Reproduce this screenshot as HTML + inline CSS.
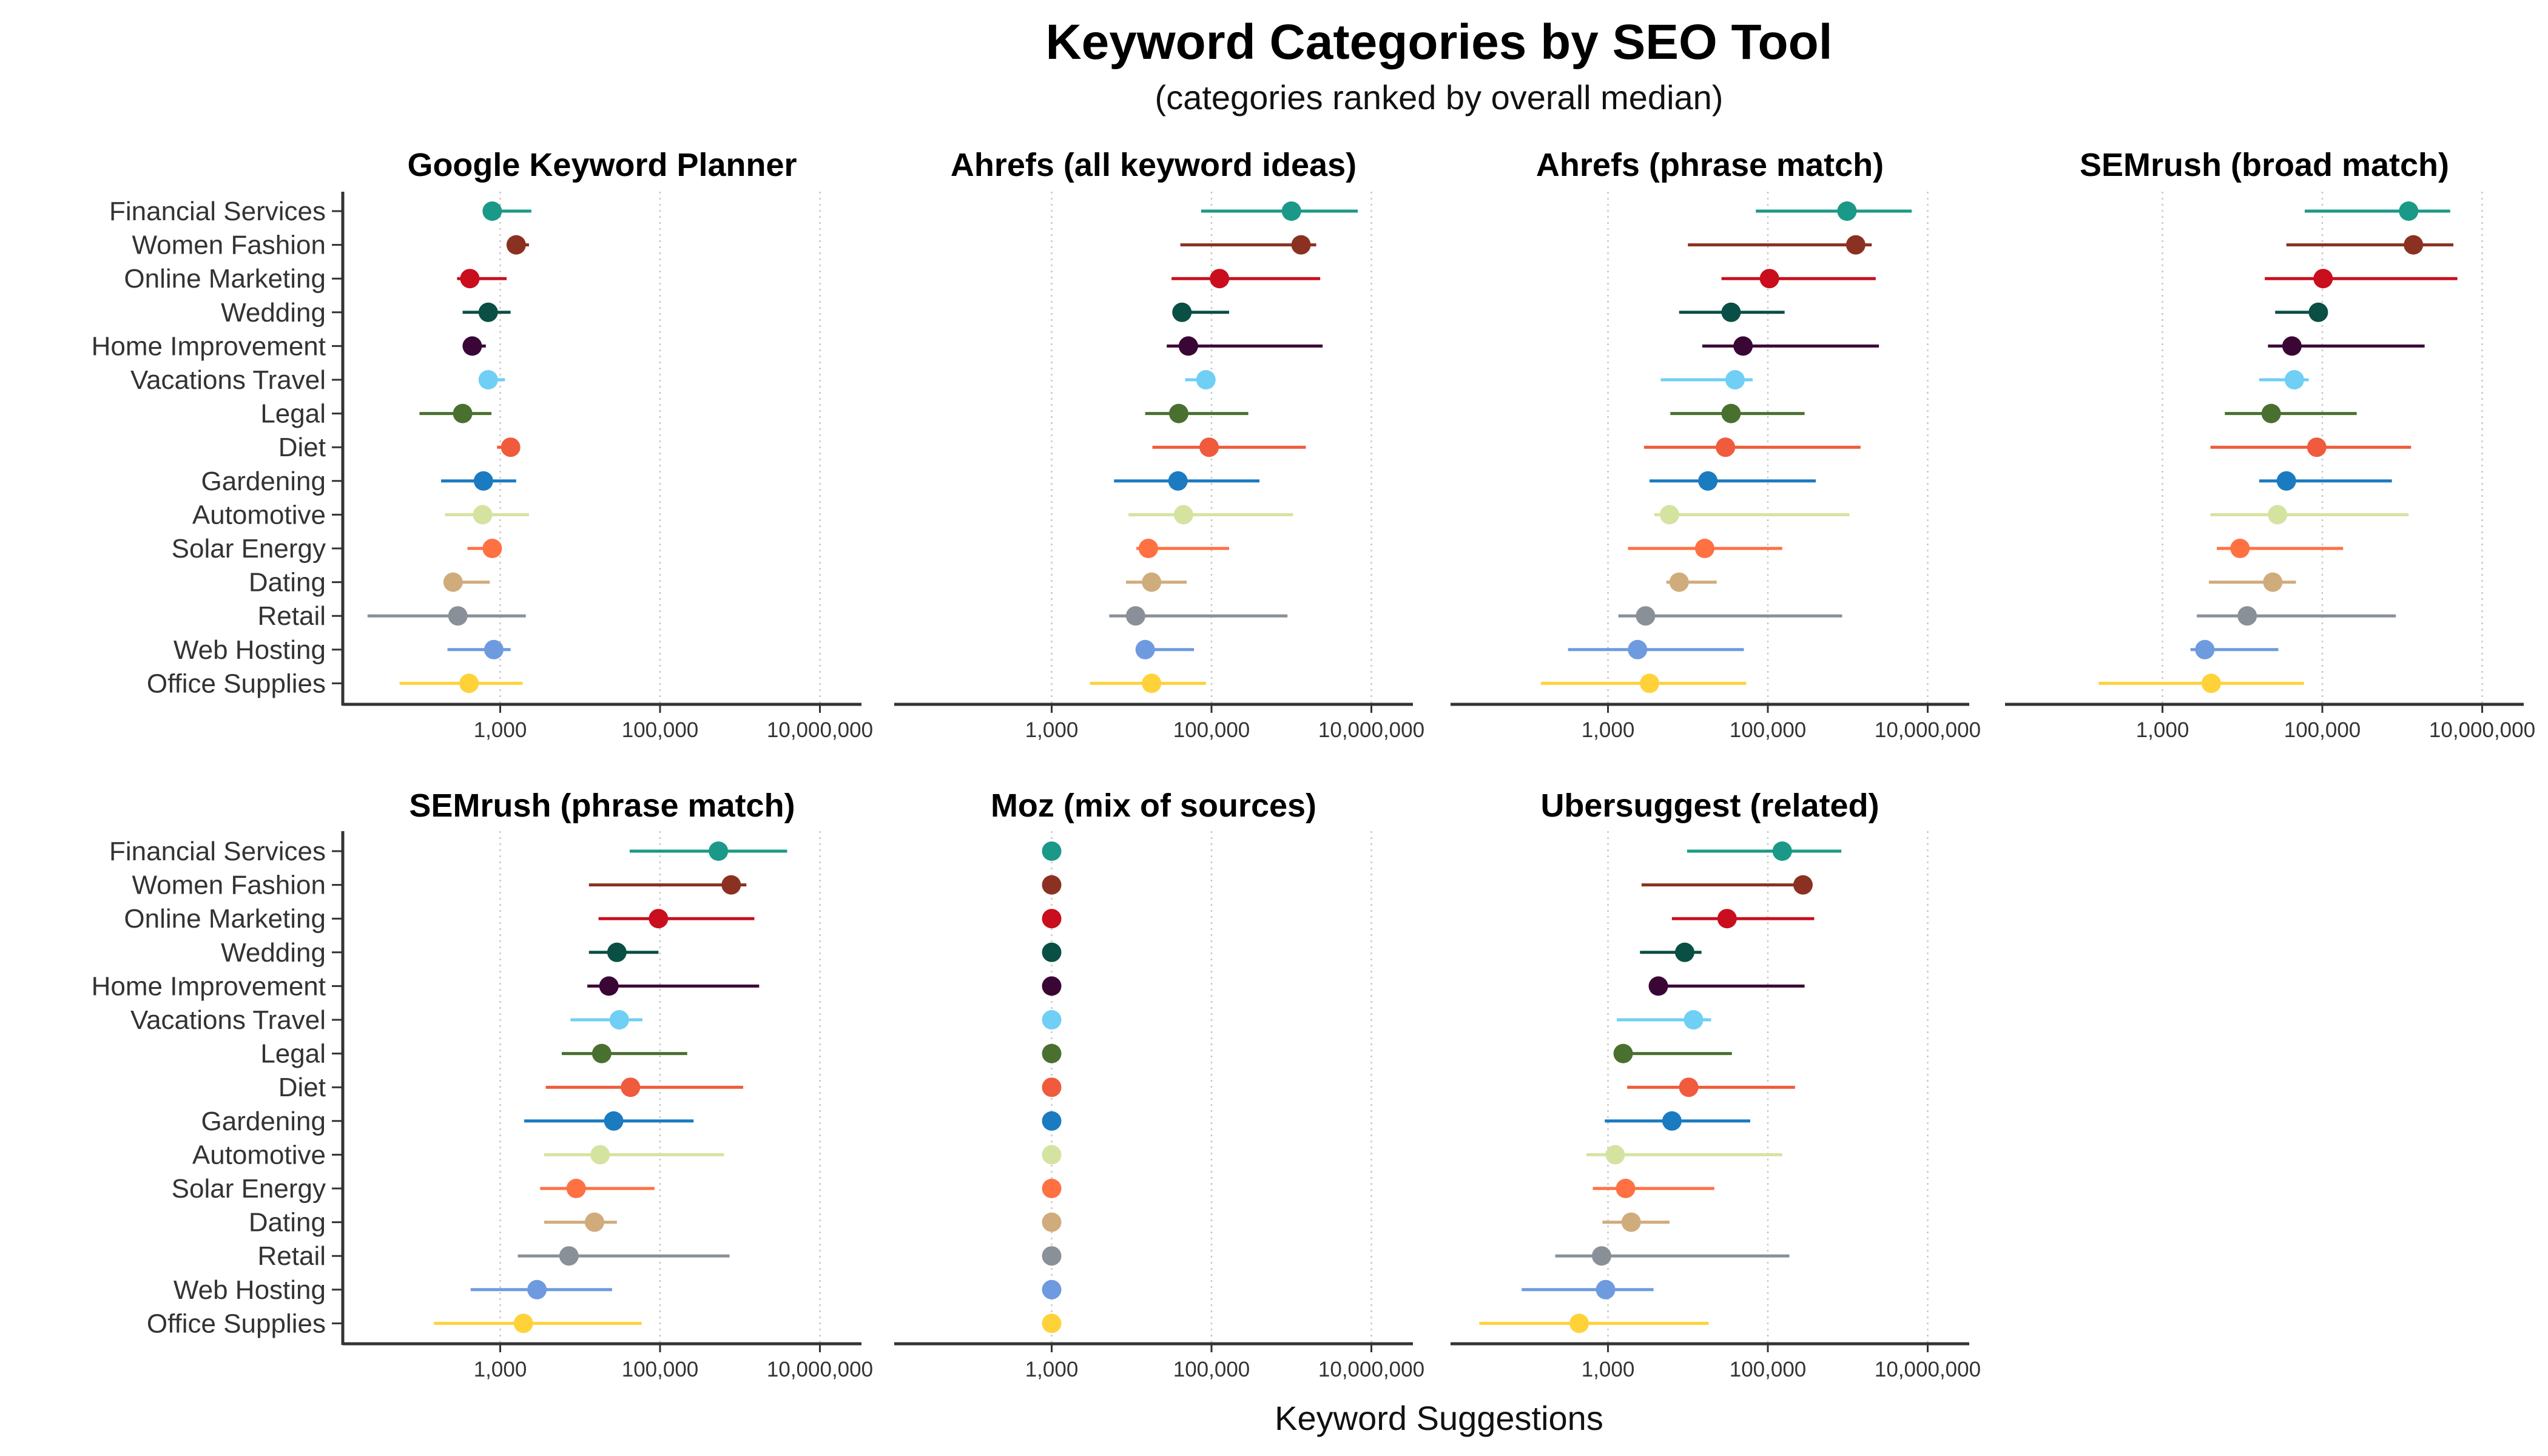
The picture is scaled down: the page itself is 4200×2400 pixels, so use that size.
<!DOCTYPE html>
<html><head><meta charset="utf-8"><style>
html,body{margin:0;padding:0;background:#fff}
svg{display:block}
text{font-family:"Liberation Sans",sans-serif}
</style></head><body>
<svg id="chart" width="4200" height="2400" viewBox="0 0 4200 2400" xmlns="http://www.w3.org/2000/svg">
<rect width="4200" height="2400" fill="#fff"/>
<text x="2372" y="97" text-anchor="middle" font-size="82" font-weight="bold" fill="#000">Keyword Categories by SEO Tool</text>
<text x="2372" y="180" text-anchor="middle" font-size="56" fill="#111">(categories ranked by overall median)</text>
<text x="2372" y="2357" text-anchor="middle" font-size="56" fill="#111">Keyword Suggestions</text>
<g id="panels"></g>
</svg>
<script>
const categories = ["Financial Services","Women Fashion","Online Marketing","Wedding","Home Improvement","Vacations Travel","Legal","Diet","Gardening","Automotive","Solar Energy","Dating","Retail","Web Hosting","Office Supplies"];
const colors = ["#1a9988","#8b3121","#c90e1d","#0a4f43","#3a0636","#6fcff5","#4a7030","#ef5b3c","#1a7bc0","#d5e3a0","#ff7043","#d0ac7c","#8a9097","#6e9ae0","#ffd23a"];
const toolNames = ["Google Keyword Planner","Ahrefs (all keyword ideas)","Ahrefs (phrase match)","SEMrush (broad match)","SEMrush (phrase match)","Moz (mix of sources)","Ubersuggest (related)"];
const tickValues = [3,5,7];
const tickLabels = ["1,000","100,000","10,000,000"];
// values are log10(keyword suggestions)
const gkpLow  = [2.85,3.11,2.46,2.53,2.55,2.76,1.99,2.96,2.26,2.31,2.59,2.29,1.34,2.34,1.74];
const gkpMed  = [2.90,3.20,2.62,2.85,2.65,2.85,2.53,3.13,2.79,2.78,2.90,2.41,2.47,2.92,2.61];
const gkpHigh = [3.39,3.36,3.08,3.13,2.82,3.06,2.89,3.22,3.20,3.36,3.01,2.87,3.32,3.13,3.28];
const ahAllLow  = [4.87,4.61,4.50,4.60,4.44,4.67,4.17,4.26,3.78,3.96,4.06,3.93,3.72,4.09,3.48];
const ahAllMed  = [6.00,6.12,5.10,4.63,4.71,4.93,4.59,4.97,4.58,4.65,4.21,4.25,4.05,4.17,4.25];
const ahAllHigh = [6.83,6.31,6.36,5.22,6.39,5.03,5.46,6.18,5.60,6.02,5.22,4.69,5.95,4.78,4.93];
const ahPhLow  = [4.85,4.00,4.42,3.89,4.18,3.66,3.78,3.45,3.52,3.58,3.25,3.73,3.13,2.50,2.16];
const ahPhMed  = [5.99,6.10,5.02,4.54,4.69,4.59,4.54,4.47,4.25,3.77,4.21,3.89,3.47,3.37,3.52];
const ahPhHigh = [6.80,6.30,6.35,5.21,6.39,4.81,5.46,6.16,5.60,6.02,5.18,4.36,5.93,4.70,4.73];
const smBrLow  = [4.78,4.55,4.28,4.41,4.32,4.21,3.78,3.60,4.21,3.60,3.68,3.58,3.43,3.35,2.20];
const smBrMed  = [6.08,6.14,5.01,4.95,4.62,4.65,4.36,4.93,4.55,4.44,3.97,4.38,4.06,3.53,3.61];
const smBrHigh = [6.60,6.64,6.69,5.00,6.28,4.83,5.43,6.11,5.87,6.08,5.26,4.67,5.92,4.45,4.77];
const smPhLow  = [4.62,4.11,4.23,4.11,4.09,3.88,3.77,3.57,3.30,3.55,3.50,3.55,3.22,2.63,2.17];
const smPhMed  = [5.73,5.89,4.98,4.46,4.36,4.49,4.27,4.63,4.42,4.25,3.95,4.18,3.86,3.46,3.29];
const smPhHigh = [6.59,6.08,6.18,4.98,6.24,4.78,5.34,6.04,5.42,5.80,4.93,4.46,5.87,4.40,4.77];
const mozLow  = [3,3,3,3,3,3,3,3,3,3,3,3,3,3,3];
const mozMed  = [3,3,3,3,3,3,3,3,3,3,3,3,3,3,3];
const mozHigh = [3,3,3,3,3,3,3,3,3,3,3,3,3,3,3];
const ubLow  = [3.99,3.42,3.80,3.40,3.54,3.11,3.08,3.24,2.96,2.73,2.81,2.93,2.34,1.92,1.39];
const ubMed  = [5.18,5.44,4.49,3.96,3.63,4.07,3.19,4.01,3.80,3.09,3.22,3.29,2.92,2.97,2.64];
const ubHigh = [5.92,5.50,5.58,4.17,5.46,4.29,4.55,5.34,4.78,5.18,4.33,3.77,5.27,3.57,4.26];

const lows  = [gkpLow,ahAllLow,ahPhLow,smBrLow,smPhLow,mozLow,ubLow];
const meds  = [gkpMed,ahAllMed,ahPhMed,smBrMed,smPhMed,mozMed,ubMed];
const highs = [gkpHigh,ahAllHigh,ahPhHigh,smBrHigh,smPhHigh,mozHigh,ubHigh];

const NS = "http://www.w3.org/2000/svg";
const root = document.getElementById("panels");
const panelX = [565,1474,2391,3305,565,1474,2391];
const panelW = 855;
const rowTop = [316,1370], rowBottom = [1161,2215], firstCat = [348,1403], catStep = [55.6,55.6];
const domMin = 1.03, domMax = 7.52;
function mk(tag, attrs, parent){const e=document.createElementNS(NS,tag);for(const k in attrs)e.setAttribute(k,attrs[k]);parent.appendChild(e);return e;}

toolNames.forEach((name,p)=>{
  const row = p<4?0:1;
  const x0 = panelX[p];
  const xs = v => x0 + (v-domMin)/(domMax-domMin)*panelW;
  const ys = i => firstCat[row] + i*catStep[row];
  const g = mk("g",{},root);
  
  
  const t = mk("text",{x:x0+panelW/2,y:row?1346:290,"text-anchor":"middle","font-size":54,"font-weight":"bold",fill:"#000"},g);
  t.textContent = name;
  
  
  tickValues.forEach((tv,k)=>{
    const gl = mk("line",{x1:xs(tv),x2:xs(tv),y1:rowTop[row],y2:rowBottom[row],stroke:"#c8c8c8","stroke-width":2.5,"stroke-dasharray":"3 7"},g);
    
    
    const tk = mk("line",{x1:xs(tv),x2:xs(tv),y1:rowBottom[row],y2:rowBottom[row]+14,stroke:"#333","stroke-width":3},g);
    
    
    const tl = mk("text",{x:xs(tv),y:rowBottom[row]+54,"text-anchor":"middle","font-size":35,fill:"#333"},g);
    tl.textContent = tickLabels[k];
    
    
  });
  const ax = mk("line",{x1:x0,x2:x0+panelW,y1:rowBottom[row],y2:rowBottom[row],stroke:"#333","stroke-width":5},g);
  
  
  if(p===0||p===4){
    const ay = mk("line",{x1:x0,x2:x0,y1:rowTop[row],y2:rowBottom[row]+2,stroke:"#333","stroke-width":5},g);
    
    
    categories.forEach((c,i)=>{
      const tk = mk("line",{x1:x0-18,x2:x0,y1:ys(i),y2:ys(i),stroke:"#333","stroke-width":3},g);
      
      
      const lb = mk("text",{x:x0-28,y:ys(i)+15,"text-anchor":"end","font-size":44,fill:"#333"},g);
      lb.textContent = c;
      
      
    });
  }
  categories.forEach((c,i)=>{
    const ln = mk("line",{x1:xs(lows[p][i]),x2:xs(highs[p][i]),y1:ys(i),y2:ys(i),stroke:colors[i],"stroke-width":5},g);
    
    
    const dt = mk("circle",{cx:xs(meds[p][i]),cy:ys(i),r:16,fill:colors[i]},g);
    
    
  });
});
</script>
</body></html>
